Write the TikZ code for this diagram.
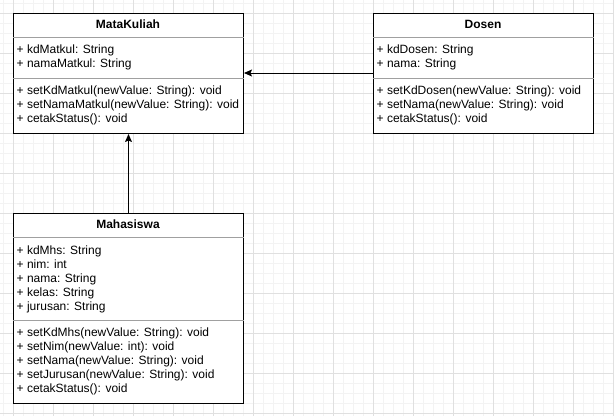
\documentclass[tikz,border=0pt]{standalone}
\usepackage{fontspec}
\setmainfont{Liberation Sans}
\usetikzlibrary{arrows.meta}
\definecolor{gridmajor}{HTML}{E0E0E0}
\definecolor{gridminor}{HTML}{F3F3F3}
\definecolor{sepgray}{HTML}{A0A0A0}
\tikzset{
  classbox/.style={draw=black, line width=1pt, fill=white, minimum width=230pt, inner sep=0pt},
  title/.style={font=\fontsize{12}{14}\selectfont\bfseries, inner sep=0pt, anchor=center},
  member/.style={font=\fontsize{12}{14}\selectfont, inner sep=0pt, anchor=west, align=left},
  sep/.style={draw=sepgray, line width=1pt},
  conn/.style={draw=black, line width=1pt, -{Stealth[length=8pt,width=7pt,inset=1.5pt]}},
}
\begin{document}
\begin{tikzpicture}[x=1pt,y=-1pt]
\useasboundingbox (0,0) rectangle (614,416);
\fill[white] (0,0) rectangle (614,416);
% grid
\foreach \i in {3,13,...,613} \draw[gridminor, line width=1pt] (\i,0) -- (\i,416);
\foreach \j in {3,13,...,413} \draw[gridminor, line width=1pt] (0,\j) -- (614,\j);
\foreach \i in {13,53,...,613} \draw[gridmajor, line width=1pt] (\i,0) -- (\i,416);
\foreach \j in {13,53,...,413} \draw[gridmajor, line width=1pt] (0,\j) -- (614,\j);

% MataKuliah
\node[classbox, minimum height=120pt, anchor=north west] (mk) at (13,13) {};
\node[title] (mkt) at (128,24.5) {MataKuliah};
\draw[sep] (13,37) -- (244,37);
\node[member] (mka) at (16.5,57.5) {+ kdMatkul: String\\+ namaMatkul: String};
\draw[sep] (13,78) -- (244,78);
\node[member] (mkm) at (16.5,105.5) {+ setKdMatkul(newValue: String): void\\+ setNamaMatkul(newValue: String): void\\+ cetakStatus(): void};

% Dosen
\node[classbox, minimum width=220pt, minimum height=120pt, anchor=north west] (ds) at (373,13) {};
\node[title] (dst) at (483,24.5) {Dosen};
\draw[sep] (373,37) -- (594,37);
\node[member] (dsa) at (376.5,57.5) {+ kdDosen: String\\+ nama: String};
\draw[sep] (373,78) -- (594,78);
\node[member] (dsm) at (376.5,105.5) {+ setKdDosen(newValue: String): void\\+ setNama(newValue: String): void\\+ cetakStatus(): void};

% Mahasiswa
\node[classbox, minimum height=190pt, anchor=north west] (mh) at (13,213) {};
\node[title] (mht) at (128,224.5) {Mahasiswa};
\draw[sep] (13,237) -- (244,237);
\node[member] (mha) at (16.5,279) {+ kdMhs: String\\+ nim: int\\+ nama: String\\+ kelas: String\\+ jurusan: String};
\draw[sep] (13,320) -- (244,320);
\node[member] (mhm) at (16.5,361.5) {+ setKdMhs(newValue: String): void\\+ setNim(newValue: int): void\\+ setNama(newValue: String): void\\+ setJurusan(newValue: String): void\\+ cetakStatus(): void};

% connectors
\coordinate (dsl) at (ds.west |- 0,73);
\coordinate (mkr) at (mk.east |- 0,73);
\draw[conn] (dsl) -- (mkr);
\draw[conn] (mh.north) -- (mk.south);
\end{tikzpicture}
\end{document}
